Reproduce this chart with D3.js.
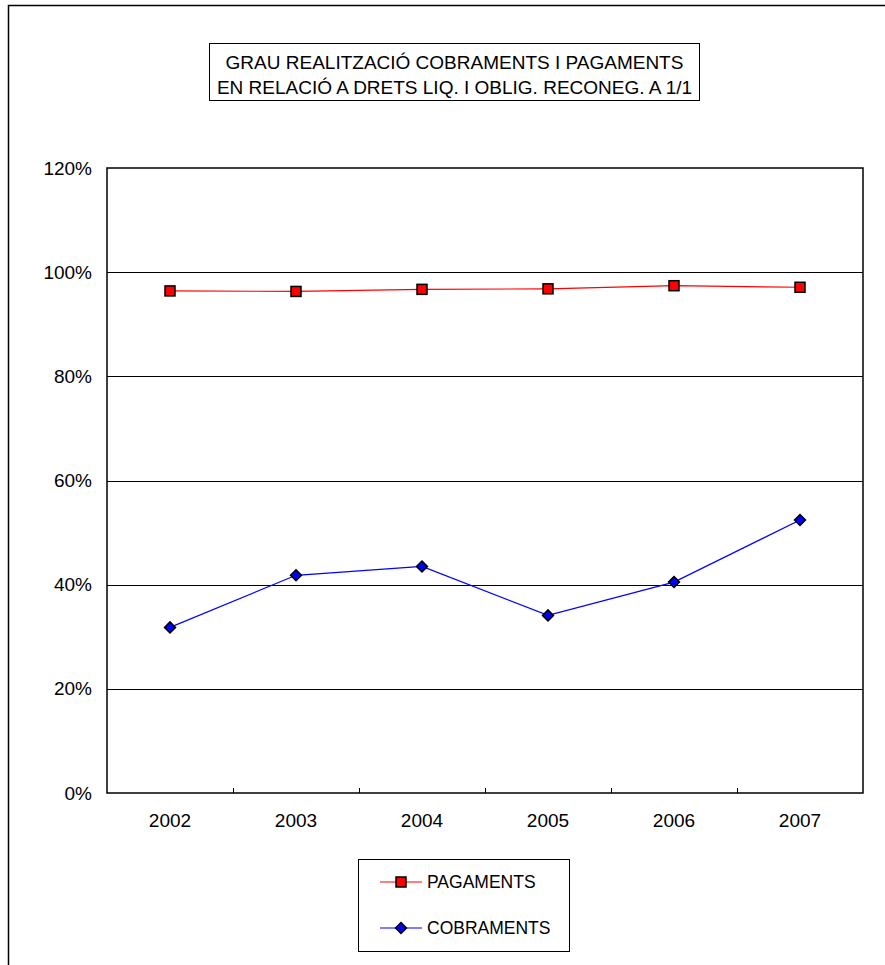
<!DOCTYPE html>
<html>
<head>
<meta charset="utf-8">
<script src="https://cdn.jsdelivr.net/npm/d3@7"></script>
<style>
  body { margin: 0; background: #fff; }
  text { font-family: "Liberation Sans", Arial, sans-serif; fill: #000; }
</style>
</head>
<body>
<svg id="chart" width="885" height="965"></svg>
<script>
// values
var years = ["2002", "2003", "2004", "2005", "2006", "2007"];
var pagaments = [96.4, 96.3, 96.7, 96.8, 97.4, 97.1];
var cobraments = [31.8, 41.8, 43.5, 34.1, 40.5, 52.4];
var yTicks = [0, 20, 40, 60, 80, 100, 120];
var titleLines = ["GRAU REALITZACIÓ COBRAMENTS I PAGAMENTS", "EN RELACIÓ A DRETS LIQ. I OBLIG. RECONEG. A 1/1"];
var seriesNames = ["PAGAMENTS", "COBRAMENTS"];

var svg = d3.select("#chart"),
    axisFont = 19,
    legendFont = 17.5,
    plotLeft = 107, plotRight = 863, plotTop = 168, plotBottom = 793;

// outer chart frame (cut off at right and bottom like the reference)
svg.append("rect")
    .attr("x", 8.5).attr("y", 5.5)
    .attr("width", 900).attr("height", 980)
    .attr("fill", "none").attr("stroke", "#000").attr("stroke-width", 1.5);

var x = d3.scaleBand().domain(years).range([plotLeft, plotRight]);
var y = d3.scaleLinear().domain([0, 120]).range([plotBottom, plotTop]);

// gridlines
svg.append("g").selectAll("line")
    .data(yTicks.filter(function (d) { return d > 0 && d < 120; }))
    .enter().append("line")
    .attr("x1", plotLeft).attr("x2", plotRight)
    .attr("y1", function (d) { return Math.round(y(d)) + 0.5; })
    .attr("y2", function (d) { return Math.round(y(d)) + 0.5; })
    .attr("stroke", "#000").attr("stroke-width", 1);

// plot frame
svg.append("rect")
    .attr("x", plotLeft).attr("y", plotTop)
    .attr("width", plotRight - plotLeft).attr("height", plotBottom - plotTop)
    .attr("fill", "none").attr("stroke", "#000").attr("stroke-width", 1.5);

// y axis labels
var yAxis = d3.axisLeft(y).tickValues(yTicks)
    .tickFormat(function (d) { return d + "%"; })
    .tickSize(0).tickPadding(15);
var gy = svg.append("g").attr("transform", "translate(" + plotLeft + ",0)").call(yAxis);
gy.select(".domain").remove();
gy.selectAll("text").style("font-size", axisFont + "px").style("font-family", "Liberation Sans, Arial, sans-serif");

// x axis: labels centered under bands, ticks at band edges pointing inward
var xAxis = d3.axisBottom(x).tickSize(0).tickPadding(21);
var gx = svg.append("g").attr("transform", "translate(0," + plotBottom + ")").call(xAxis);
gx.select(".domain").remove();
gx.selectAll("text").style("font-size", axisFont + "px").style("font-family", "Liberation Sans, Arial, sans-serif");

svg.append("g").selectAll("line")
    .data(years.slice(1))
    .enter().append("line")
    .attr("x1", function (d) { return Math.round(x(d)) + 0.5; })
    .attr("x2", function (d) { return Math.round(x(d)) + 0.5; })
    .attr("y1", plotBottom).attr("y2", plotBottom - 5)
    .attr("stroke", "#000").attr("stroke-width", 1);

var cx = function (d, i) { return x(years[i]) + x.bandwidth() / 2; };
var line = d3.line()
    .x(function (d, i) { return cx(d, i); })
    .y(function (d) { return y(d); });

// PAGAMENTS
svg.append("path").datum(pagaments)
    .attr("d", line).attr("fill", "none").attr("stroke", "#ff0000").attr("stroke-width", 1.2);
svg.append("g").selectAll("rect")
    .data(pagaments).enter().append("rect")
    .attr("x", function (d, i) { return cx(d, i) - 5; })
    .attr("y", function (d) { return y(d) - 5; })
    .attr("width", 10).attr("height", 10)
    .attr("fill", "#ff0000").attr("stroke", "#000").attr("stroke-width", 1.5);

// COBRAMENTS
var diamond = d3.symbol().type(d3.symbolSquare).size(60);
svg.append("path").datum(cobraments)
    .attr("d", line).attr("fill", "none").attr("stroke", "#0000ff").attr("stroke-width", 1.2);
svg.append("g").selectAll("path")
    .data(cobraments).enter().append("path")
    .attr("d", diamond)
    .attr("transform", function (d, i) { return "translate(" + cx(d, i) + "," + y(d) + ") rotate(45)"; })
    .attr("fill", "#0000ff").attr("stroke", "#000").attr("stroke-width", 1.5);

// title box
svg.append("rect")
    .attr("x", 209.5).attr("y", 43.5).attr("width", 490).attr("height", 57)
    .attr("fill", "#fff").attr("stroke", "#000").attr("stroke-width", 1);
svg.append("g").selectAll("text")
    .data(titleLines).enter().append("text")
    .attr("x", 454.5)
    .attr("y", function (d, i) { return 69 + i * 25; })
    .attr("text-anchor", "middle")
    .style("font-size", axisFont + "px")
    .text(function (d) { return d; });

// legend
var legend = svg.append("g");
legend.append("rect")
    .attr("x", 358.5).attr("y", 859.5).attr("width", 211).attr("height", 92)
    .attr("fill", "#fff").attr("stroke", "#000").attr("stroke-width", 1);
var ly = [882, 928], colors = ["#ff0000", "#0000ff"];
seriesNames.forEach(function (name, i) {
    legend.append("line")
        .attr("x1", 380).attr("x2", 422).attr("y1", ly[i]).attr("y2", ly[i])
        .attr("stroke", colors[i]).attr("stroke-width", 1.2);
    if (i == 0) {
        legend.append("rect")
            .attr("x", 396).attr("y", ly[i] - 5).attr("width", 10).attr("height", 10)
            .attr("fill", colors[i]).attr("stroke", "#000").attr("stroke-width", 1.5);
    } else {
        legend.append("path").attr("d", diamond)
            .attr("transform", "translate(401," + ly[i] + ") rotate(45)")
            .attr("fill", colors[i]).attr("stroke", "#000").attr("stroke-width", 1.5);
    }
    legend.append("text")
        .attr("x", 427).attr("y", ly[i])
        .attr("dy", "0.35em")
        .style("font-size", legendFont + "px")
        .text(name);
});
</script>
</body>
</html>
